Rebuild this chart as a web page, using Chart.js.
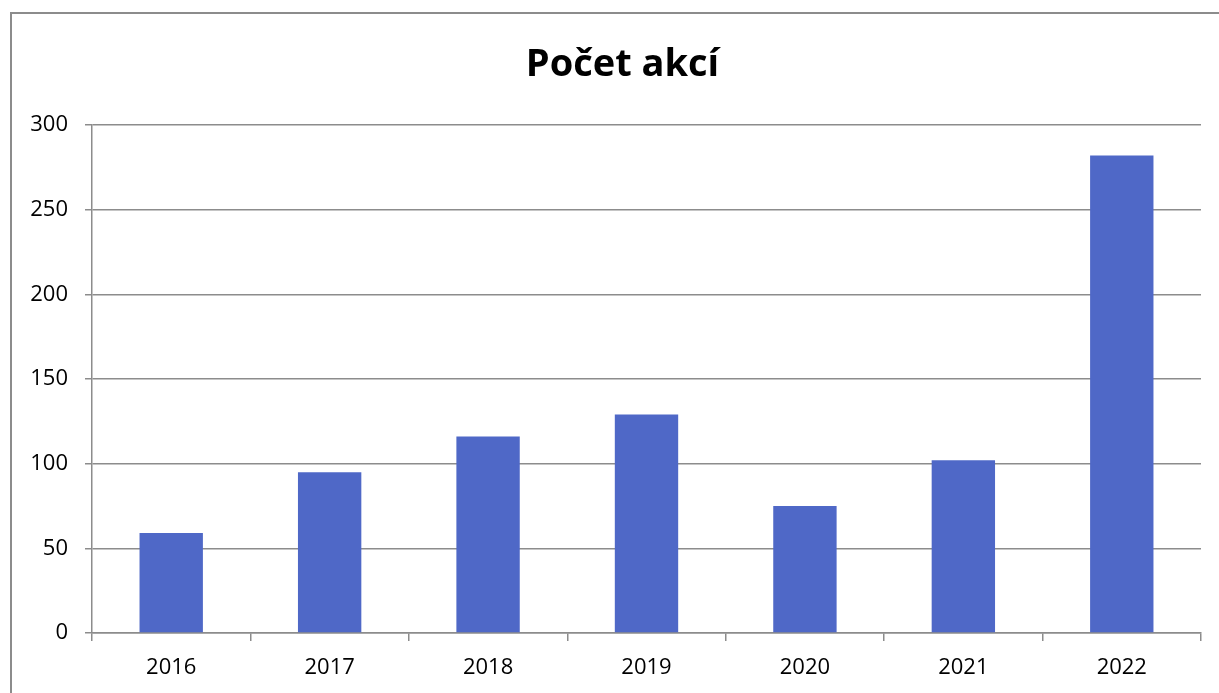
<!DOCTYPE html>
<html>
<head>
<meta charset="utf-8">
<script src="https://cdn.jsdelivr.net/npm/chart.js@4/dist/chart.umd.min.js"></script>
<style>
html,body{margin:0;padding:0;background:#fff;overflow:hidden;}
#frame{position:absolute;left:10px;top:12px;width:1300px;height:800px;border:2px solid #8c8c8c;box-sizing:border-box;}
#wrap{position:absolute;left:0;top:0;width:1219px;height:693px;}
</style>
</head>
<body>
<div id="frame"></div>
<div id="wrap"><canvas id="c" width="1219" height="693"></canvas></div>
<script>
const categories = ["2016","2017","2018","2019","2020","2021","2022"];
const values = [59, 95, 116, 129, 75, 102, 282];
const yTicks = [0, 50, 100, 150, 200, 250, 300];
const titleText = "Počet akcí";

const FONT = "'Open Sans', 'Liberation Sans', sans-serif";
const shiftTitle = {
  id: 'shiftTitle',
  afterLayout(chart) {
    const t = chart.titleBlock;
    if (t) { t.left = 44; }
  }
};
new Chart(document.getElementById('c'), {
  type: 'bar',
  data: {
    labels: categories,
    datasets: [{
      data: values,
      backgroundColor: '#4f68c7',
      borderWidth: 0,
      barPercentage: 0.4,
      categoryPercentage: 1.0
    }]
  },
  plugins: [shiftTitle],
  options: {
    responsive: false,
    animation: false,
    layout: { padding: { left: 0, right: 18, top: 0, bottom: 0 } },
    plugins: {
      legend: { display: false },
      tooltip: { enabled: false },
      title: {
        display: true,
        text: titleText,
        color: '#000',
        font: { family: FONT, size: 38, weight: 'bold', lineHeight: 1.2 },
        padding: { top: 42, bottom: 37.4 }
      }
    },
    scales: {
      x: {
        grid: { display: true, drawOnChartArea: false, drawTicks: true, tickLength: 8, color: '#8c8c8c', lineWidth: 1.5, offset: true },
        border: { display: true, color: '#8c8c8c', width: 1.5 },
        ticks: { color: '#000', font: { family: FONT, size: 22 }, padding: 14 },
        afterFit: (s) => { s.height = 60; }
      },
      y: {
        min: 0, max: 300,
        afterBuildTicks: (s) => { s.ticks = yTicks.map(v => ({ value: v })); },
        grid: { color: '#8c8c8c', lineWidth: 1.5, tickLength: 7 },
        border: { display: true, color: '#8c8c8c', width: 1.5 },
        ticks: { color: '#000', font: { family: FONT, size: 22 }, padding: 17 },
        afterFit: (s) => { s.width = 92; }
      }
    }
  }
});
</script>
</body>
</html>
